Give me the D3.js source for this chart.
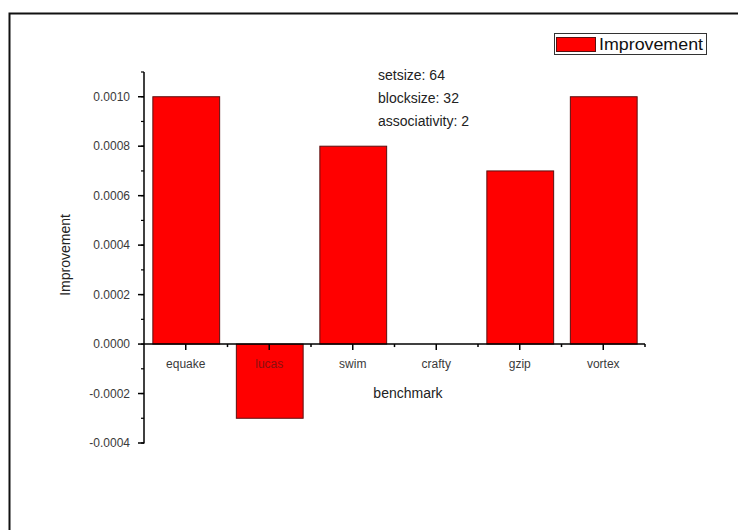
<!DOCTYPE html>
<html>
<head>
<meta charset="utf-8">
<script src="https://cdn.jsdelivr.net/npm/d3@7/dist/d3.min.js"></script>
<style>
  html, body { margin: 0; padding: 0; background: #fff; }
  svg { display: block; font-family: "Liberation Sans", Arial, sans-serif; }
</style>
</head>
<body>
<svg id="chart" width="738" height="530"></svg>
<script>
// Benchmarks and their improvement values
const benchmarks = ["equake", "lucas", "swim", "crafty", "gzip", "vortex"];
const improvement = [0.0010, -0.0003, 0.0008, 0.0000, 0.0007, 0.0010];
const yTicks = [-0.0004, -0.0002, 0.0000, 0.0002, 0.0004, 0.0006, 0.0008, 0.0010];
const notes = ["setsize: 64", "blocksize: 32", "associativity: 2"];
const seriesName = "Improvement";

const svg = d3.select("#chart");

// Outer frame
svg.append("rect")
  .attr("x", 9.5).attr("y", 13.5)
  .attr("width", 760).attr("height", 560)
  .attr("fill", "none").attr("stroke", "#111").attr("stroke-width", 2);

const plot = { left: 144, right: 645, top: 72, bottom: 443 };

const x = d3.scaleBand().domain(benchmarks)
  .range([plot.left, plot.right]).paddingInner(0.2).paddingOuter(0.1);
const y = d3.scaleLinear().domain([-0.0004, 0.0011])
  .range([plot.bottom, plot.top]);

const data = benchmarks.map((b, i) => ({ name: b, value: improvement[i] }));

// Bars
svg.append("g").selectAll("rect").data(data).join("rect")
  .attr("x", d => x(d.name) + 0.5)
  .attr("width", x.bandwidth())
  .attr("y", d => Math.min(y(d.value), y(0)))
  .attr("height", d => Math.abs(y(d.value) - y(0)))
  .attr("fill", "#ff0000")
  .attr("stroke", "#5a1010")
  .attr("stroke-width", d => d.value === 0 ? 0 : 1);

// Y axis with major and minor ticks
const yAxis = svg.append("g").attr("transform", `translate(${plot.left},0)`);
yAxis.append("line")
  .attr("x1", 0).attr("x2", 0)
  .attr("y1", plot.top).attr("y2", plot.bottom + 0.5)
  .attr("stroke", "#000").attr("stroke-width", 1.5);
const minor = d3.range(-4, 12).map(k => k * 0.0001);
yAxis.selectAll(".minor").data(minor).join("line")
  .attr("x1", 0).attr("x2", -3)
  .attr("y1", d => y(d)).attr("y2", d => y(d))
  .attr("stroke", "#000").attr("stroke-width", 1.2);
yAxis.selectAll(".major").data(yTicks).join("line")
  .attr("x1", 0).attr("x2", -6)
  .attr("y1", d => y(d)).attr("y2", d => y(d))
  .attr("stroke", "#000").attr("stroke-width", 1.5);
yAxis.selectAll("text").data(yTicks).join("text")
  .attr("x", -14).attr("y", d => y(d)).attr("dy", "0.35em")
  .attr("text-anchor", "end")
  .attr("font-size", 12).attr("fill", "#3a3a3a")
  .text(d => d3.format(".4f")(d).replace("−", "-"));

// X axis along zero with ticks at centres and band edges
const xAxis = svg.append("g").attr("transform", `translate(0,${y(0)})`);
xAxis.append("line")
  .attr("x1", plot.left).attr("x2", plot.right)
  .attr("stroke", "#000").attr("stroke-width", 1.5);
const edges = d3.range(1, benchmarks.length + 1).map(i => plot.left + i * (plot.right - plot.left) / benchmarks.length);
xAxis.selectAll(".edge").data(edges).join("line")
  .attr("x1", d => d).attr("x2", d => d)
  .attr("y1", 0).attr("y2", 3)
  .attr("stroke", "#000").attr("stroke-width", 1.5);
xAxis.selectAll(".center").data(benchmarks).join("line")
  .attr("x1", d => x(d) + x.bandwidth() / 2).attr("x2", d => x(d) + x.bandwidth() / 2)
  .attr("y1", 0).attr("y2", 6)
  .attr("stroke", "#000").attr("stroke-width", 1.5);
xAxis.selectAll("text").data(benchmarks).join("text")
  .attr("x", d => x(d) + x.bandwidth() / 2).attr("y", 24)
  .attr("text-anchor", "middle")
  .attr("font-size", 12)
  .attr("fill", (d, i) => improvement[i] < 0 ? "#8a1010" : "#3a3a3a")
  .text(d => d);

// Axis titles
svg.append("text")
  .attr("x", 408).attr("y", 398)
  .attr("text-anchor", "middle").attr("font-size", 14).attr("fill", "#222")
  .text("benchmark");
svg.append("text")
  .attr("transform", "translate(70,255) rotate(-90)")
  .attr("text-anchor", "middle").attr("font-size", 14).attr("fill", "#222")
  .text("Improvement");

// Parameter notes
svg.append("g").selectAll("text").data(notes).join("text")
  .attr("x", 378).attr("y", (d, i) => 80 + i * 23)
  .attr("font-size", 14).attr("fill", "#222")
  .text(d => d);

// Legend
const legend = svg.append("g");
legend.append("rect")
  .attr("x", 554.5).attr("y", 33.5).attr("width", 152).attr("height", 21)
  .attr("fill", "#fff").attr("stroke", "#333").attr("stroke-width", 1);
legend.append("rect")
  .attr("x", 556.5).attr("y", 37.5).attr("width", 39).attr("height", 14)
  .attr("fill", "#ff0000").attr("stroke", "#5a1010").attr("stroke-width", 1);
legend.append("text")
  .attr("x", 599).attr("y", 50)
  .attr("font-size", 16).attr("fill", "#111")
  .attr("textLength", 104).attr("lengthAdjust", "spacingAndGlyphs")
  .text(seriesName);
</script>
</body>
</html>
